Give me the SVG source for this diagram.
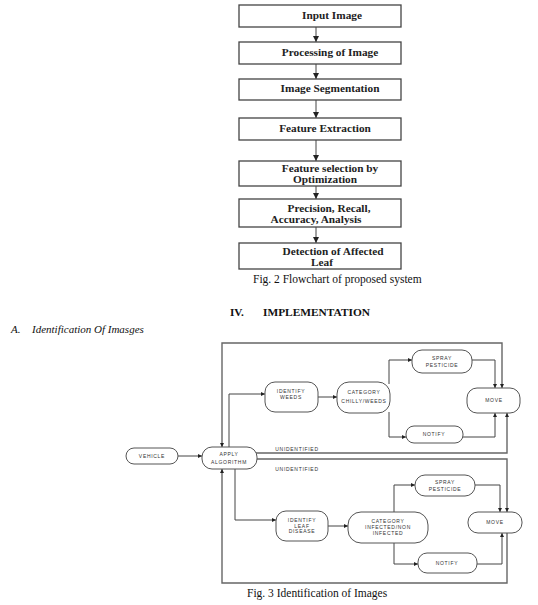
<svg xmlns="http://www.w3.org/2000/svg" width="538" height="605" viewBox="0 0 538 605">
<defs>
<style>
.fb{fill:#fff;stroke:#444;stroke-width:1.3}
.ft{font-family:"Liberation Serif","DejaVu Serif",serif;font-weight:bold;font-size:11.3px;fill:#222;text-anchor:middle}
.cap{font-family:"Liberation Serif",serif;font-size:11.5px;fill:#111}
.pill{fill:#fff;stroke:#555;stroke-width:1}
.nt{font-family:"Liberation Sans",Arial,sans-serif;font-size:5px;letter-spacing:0.7px;fill:#333;text-anchor:middle}
.ln{fill:none;stroke:#444;stroke-width:1}
.lp{fill:none;stroke:#666;stroke-width:1.4}
</style>
<marker id="ah" markerUnits="userSpaceOnUse" markerWidth="8" markerHeight="8" refX="6" refY="3" orient="auto-start-reverse"><path d="M0,0 L6,3 L0,6 Z" fill="#222"/></marker>
<marker id="as" markerUnits="userSpaceOnUse" markerWidth="6" markerHeight="6" refX="4" refY="2" orient="auto-start-reverse"><path d="M0,0 L4,2 L0,4 Z" fill="#222"/></marker>
</defs>
<rect width="538" height="605" fill="#fff"/>

<!-- Flowchart (Fig. 2) -->
<g id="connectors-fig2">
<path class="ln" d="M316,27 V42" marker-end="url(#ah)"/>
<path class="ln" d="M316,64 V79" marker-end="url(#ah)"/>
<path class="ln" d="M316,100 V118" marker-end="url(#ah)"/>
<path class="ln" d="M316,140 V161" marker-end="url(#ah)"/>
<path class="ln" d="M316,186 V199" marker-end="url(#ah)"/>
<path class="ln" d="M316,227 V243" marker-end="url(#ah)"/>
</g>
<g id="f1"><rect class="fb" x="239" y="5" width="162" height="22"/><text class="ft" x="332" y="19">Input Image</text></g>
<g id="f2"><rect class="fb" x="239" y="42" width="162" height="22"/><text class="ft" x="330" y="56">Processing of Image</text></g>
<g id="f3"><rect class="fb" x="239" y="79" width="162" height="21"/><text class="ft" x="330" y="92">Image Segmentation</text></g>
<g id="f4"><rect class="fb" x="239" y="118" width="162" height="22"/><text class="ft" x="325" y="132">Feature Extraction</text></g>
<g id="f5"><rect class="fb" x="239" y="161" width="162" height="25"/><text class="ft" x="330" y="172">Feature selection by</text><text class="ft" x="325" y="183">Optimization</text></g>
<g id="f6"><rect class="fb" x="239" y="199" width="162" height="28"/><text class="ft" x="329" y="212">Precision,  Recall,</text><text class="ft" x="316" y="223">Accuracy, Analysis</text></g>
<g id="f7"><rect class="fb" x="239" y="243" width="162" height="26"/><text class="ft" x="333" y="255">Detection of Affected</text><text class="ft" x="322" y="266">Leaf</text></g>
<text class="cap" x="253" y="283">Fig. 2 Flowchart of proposed system</text>

<text x="230" y="316" font-family="Liberation Serif,serif" font-weight="bold" font-size="11.2px" fill="#111">IV.</text>
<text x="263" y="316" font-family="Liberation Serif,serif" font-weight="bold" font-size="11.2px" fill="#111" textLength="107" lengthAdjust="spacingAndGlyphs">IMPLEMENTATION</text>
<text x="11" y="333" font-family="Liberation Serif,serif" font-style="italic" font-size="11px" fill="#111">A.</text>
<text x="32" y="333" font-family="Liberation Serif,serif" font-style="italic" font-size="11px" fill="#111">Identification Of Imasges</text>

<!-- Fig. 3 connectors -->
<g id="connectors-fig3">
<path class="ln" d="M178,456 H202" marker-end="url(#as)"/>
<path class="ln" d="M229,447 V394 H265" marker-end="url(#as)"/>
<path class="ln" d="M318,397 H337" marker-end="url(#as)"/>
<path class="ln" d="M389,384 V360 H412" marker-end="url(#as)"/>
<path class="ln" d="M389,412 V437 H406" marker-end="url(#as)"/>
<path class="ln" d="M472,360 H495 V388" marker-end="url(#as)"/>
<path class="ln" d="M463,437 H495 V413" marker-end="url(#as)"/>
<path class="lp" d="M502,388 V343 H222 V447" marker-start="url(#as)" marker-end="url(#as)"/>
<path class="lp" d="M254,453 H507 V413" marker-end="url(#as)"/>
<path class="lp" d="M254,459 H507 V512" marker-end="url(#as)"/>
<path class="ln" d="M235,469 V520 H276" marker-end="url(#as)"/>
<path class="ln" d="M328,526 H348" marker-end="url(#as)"/>
<path class="ln" d="M394,512 V485 H415" marker-end="url(#as)"/>
<path class="ln" d="M394,543 V564 H418" marker-end="url(#as)"/>
<path class="ln" d="M475,485 H500 V512" marker-end="url(#as)"/>
<path class="ln" d="M477,564 H502 V533" marker-end="url(#as)"/>
<path class="lp" d="M507,533 V583 H222 V469" marker-end="url(#as)"/>
</g>
<text class="nt" x="297" y="451">UNIDENTIFIED</text>
<text class="nt" x="297" y="471">UNIDENTIFIED</text>

<g id="vehicle"><rect class="pill" x="126" y="448" width="52" height="16" rx="8"/><text class="nt" x="152" y="458">VEHICLE</text></g>
<g id="apply"><rect class="pill" x="202" y="447" width="55" height="22" rx="10"/><text class="nt" x="229" y="456">APPLY</text><text class="nt" x="229" y="464">ALGORITHM</text></g>
<g id="identify-weeds"><rect class="pill" x="265" y="382" width="53" height="30" rx="10"/><text class="nt" x="291" y="393">IDENTIFY</text><text class="nt" x="291" y="399">WEEDS</text></g>
<g id="category1"><rect class="pill" x="337" y="382" width="53" height="31" rx="12"/><text class="nt" x="364" y="394">CATEGORY</text><text class="nt" x="364" y="403">CHILLY/WEEDS</text></g>
<g id="spray1"><rect class="pill" x="412" y="350" width="60" height="23" rx="10"/><text class="nt" x="442" y="360">SPRAY</text><text class="nt" x="442" y="367">PESTICIDE</text></g>
<g id="notify1"><rect class="pill" x="406" y="426" width="57" height="17" rx="8"/><text class="nt" x="434" y="436">NOTIFY</text></g>
<g id="move1"><rect class="pill" x="467" y="388" width="53" height="25" rx="10"/><text class="nt" x="494" y="402">MOVE</text></g>
<g id="identify-leaf"><rect class="pill" x="276" y="511" width="52" height="30" rx="10"/><text class="nt" x="302" y="522">IDENTIFY</text><text class="nt" x="302" y="528">LEAF</text><text class="nt" x="302" y="533">DISEASE</text></g>
<g id="category2"><rect class="pill" x="348" y="512" width="80" height="31" rx="13"/><text class="nt" x="388" y="523">CATEGORY</text><text class="nt" x="388" y="529">INFECTED/NON</text><text class="nt" x="388" y="535">INFECTED</text></g>
<g id="spray2"><rect class="pill" x="415" y="475" width="60" height="21" rx="10"/><text class="nt" x="445" y="484">SPRAY</text><text class="nt" x="445" y="491">PESTICIDE</text></g>
<g id="notify2"><rect class="pill" x="418" y="553" width="59" height="20" rx="9"/><text class="nt" x="447" y="565">NOTIFY</text></g>
<g id="move2"><rect class="pill" x="468" y="512" width="54" height="21" rx="10"/><text class="nt" x="495" y="524">MOVE</text></g>
<text class="cap" x="247" y="597">Fig. 3 Identification of Images</text>
</svg>
